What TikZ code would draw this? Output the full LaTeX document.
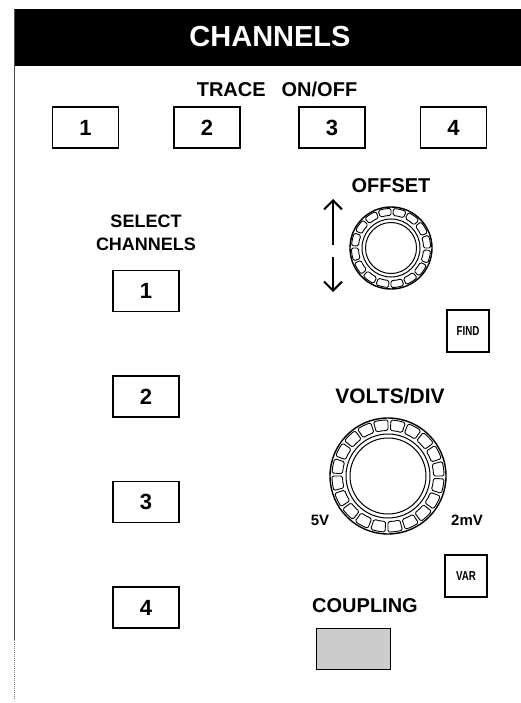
\documentclass[tikz,border=0pt]{standalone}
\usepackage{fontspec}
\setmainfont{Liberation Sans}
\usetikzlibrary{arrows.meta,calc}
\begin{document}
\begin{tikzpicture}[x=1pt,y=-1pt,
  btn/.style={draw=black,line width=1.1pt,minimum width=66pt,minimum height=41pt,inner sep=0pt,font=\fontsize{22}{22}\selectfont\bfseries},
  lbl/.style={inner sep=0pt,font=\fontsize{20}{24}\selectfont\bfseries},
  smallbtn/.style={draw=black,line width=1.1pt,minimum width=42pt,minimum height=42pt,inner sep=0pt,font=\fontsize{13}{13}\selectfont\bfseries},
  knobline/.style={line width=1pt},
  knurl/.style={line width=0.9pt,rounded corners=1.5pt},
  updown/.style={line width=2pt,-{Straight Barb[length=9pt,width=18pt,line width=2pt]}}
]
\useasboundingbox (0,0) rectangle (521,703);
\fill[white] (0,0) rectangle (521,703);
% header
\fill[black] (14,9) rectangle (521,66);
\draw[line width=1pt, black!70] (14,9) -- (14,640);
\draw[line width=0.8pt, black!50, dash pattern=on 1pt off 1pt] (14,640) -- (14,700);
\node[inner sep=0pt,font=\fontsize{29}{29}\selectfont\bfseries, text=white] (title) at (270,37) {CHANNELS};
% trace on/off
\node[lbl] (trace) at (277,89) {TRACE\hspace{16pt}ON/OFF};
\node[btn] (t1) at (85.5,127.5) {1};
\node[btn] (t2) at (207,127.5) {2};
\node[btn] (t3) at (332,127.5) {3};
\node[btn] (t4) at (453.5,127.5) {4};
% select channels
\node[lbl,align=center,font=\fontsize{18}{23}\selectfont\bfseries] (sel) at (146,233) {SELECT\\CHANNELS};
\node[btn] (s1) at (146,291) {1};
\node[btn] (s2) at (146,396.5) {2};
\node[btn] (s3) at (146,502) {3};
\node[btn] (s4) at (146,607.5) {4};
% offset knob
\node[lbl] (offset) at (391,186) {OFFSET};
\coordinate (ok) at (391,248);
\draw[line width=1.4pt] (ok) circle (41pt);
\foreach \a in {0,22.5,...,337.5}{
  \pgfmathsetmacro{\b}{\a+19}
  \draw[knurl] ($(ok)+(\a:32.5pt)$) arc[start angle=\a,end angle=\b,radius=32.5pt]
     -- ($(ok)+(\b:39.5pt)$) arc[start angle=\b,end angle=\a,radius=39.5pt] -- cycle;
}
\draw[knobline] (ok) circle (29pt);
\draw[knobline] (ok) circle (25.5pt);
\coordinate (ua) at (333,245);
\coordinate (ub) at (333,199);
\coordinate (da) at (333,257);
\coordinate (db) at (333,292);
\draw[updown] (ua) -- (ub);
\draw[updown] (da) -- (db);
\node[smallbtn] (find) at (468,331) {\scalebox{0.75}[1]{FIND}};
% volts/div knob
\node[lbl,font=\fontsize{21}{24}\selectfont\bfseries] (volts) at (390,396) {VOLTS/DIV};
\coordinate (vk) at (388,476);
\draw[line width=1.4pt] (vk) circle (58pt);
\foreach \a in {0,18,...,342}{
  \pgfmathsetmacro{\b}{\a+15}
  \draw[knurl] ($(vk)+(\a:45.5pt)$) arc[start angle=\a,end angle=\b,radius=45.5pt]
     -- ($(vk)+(\b:56pt)$) arc[start angle=\b,end angle=\a,radius=56pt] -- cycle;
}
\draw[knobline] (vk) circle (42pt);
\draw[knobline] (vk) circle (38pt);
\node[inner sep=0pt,font=\fontsize{15}{15}\selectfont\bfseries] (v5) at (320,520) {5V};
\node[inner sep=0pt,font=\fontsize{15}{15}\selectfont\bfseries] (v2) at (467,520) {2mV};
\node[smallbtn] (var) at (466,576) {\scalebox{0.75}[1]{VAR}};
% coupling
\node[lbl] (coupling) at (365,606) {COUPLING};
\node[draw=black,line width=0.8pt,fill=gray!40,minimum width=74pt,minimum height=41pt,inner sep=0pt] (cbox) at (353,649) {};
\end{tikzpicture}
\end{document}
